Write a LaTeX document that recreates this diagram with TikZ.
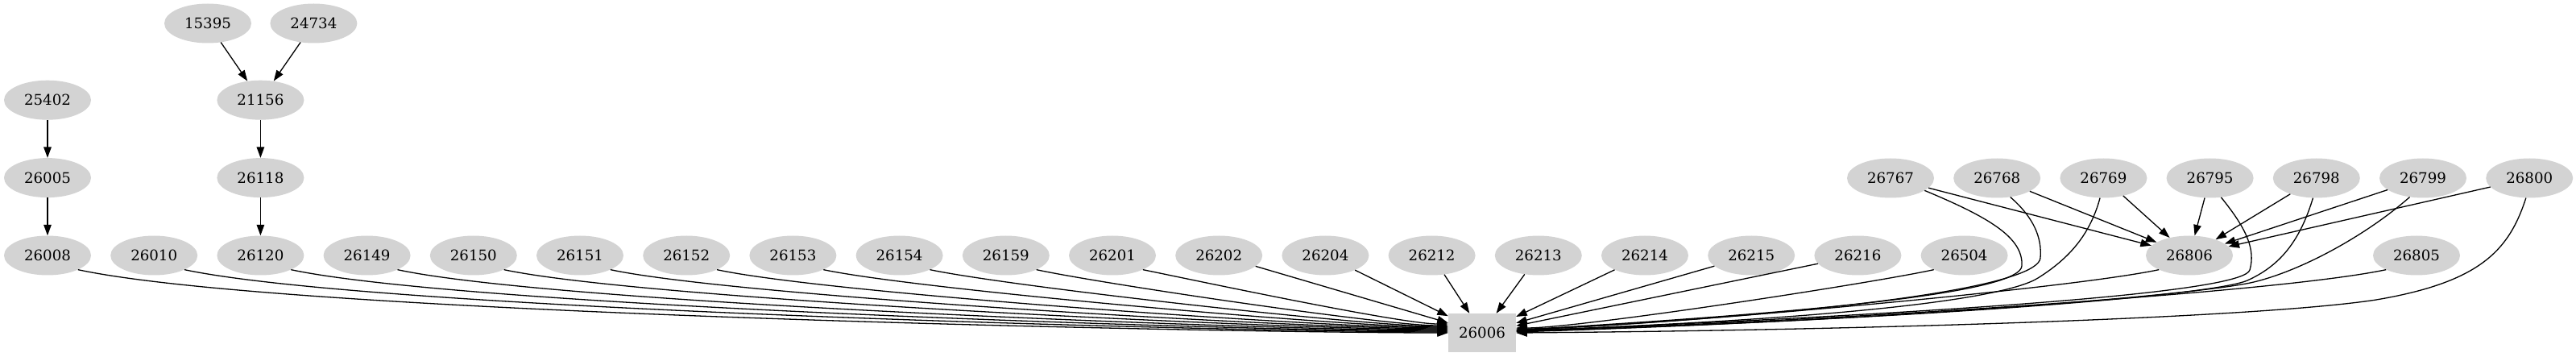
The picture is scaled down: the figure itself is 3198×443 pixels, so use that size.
\documentclass[tikz,border=0pt]{standalone}
\usepackage{fontspec}
\setmainfont{DejaVu Serif}
\usetikzlibrary{positioning,arrows.meta,shapes.geometric}
\definecolor{GrisNodo}{HTML}{D3D3D3}
\tikzstyle{IdNodo}=[ellipse, fill=GrisNodo, minimum width=108pt, minimum height=49pt, inner sep=0pt, font=\fontsize{18.2}{22}\selectfont]
\tikzstyle{NodoSumidero}=[rectangle, fill=GrisNodo, minimum width=84pt, minimum height=48pt, inner sep=0pt, font=\fontsize{18.2}{22}\selectfont]
\tikzstyle{Arco}=[-{Triangle[length=13.5pt, width=9.5pt]}, line width=1.3pt]

\begin{document}
\begin{tikzpicture}[x=1pt, y=1pt]
			\useasboundingbox (0,0) rectangle (3198,-443);

			%Nodos
			\node[IdNodo]		(n26008)	at (59,-317)				{26008};
			\node[IdNodo]		(n26010)	[right=23.8pt of n26008]	{26010};
			\node[IdNodo]		(n26120)	[right=23.8pt of n26010]	{26120};
			\node[IdNodo]		(n26149)	[right=23.8pt of n26120]	{26149};
			\node[IdNodo]		(n26150)	[right=23.8pt of n26149]	{26150};
			\node[IdNodo]		(n26151)	[right=23.8pt of n26150]	{26151};
			\node[IdNodo]		(n26152)	[right=23.8pt of n26151]	{26152};
			\node[IdNodo]		(n26153)	[right=23.8pt of n26152]	{26153};
			\node[IdNodo]		(n26154)	[right=23.8pt of n26153]	{26154};
			\node[IdNodo]		(n26159)	[right=23.8pt of n26154]	{26159};
			\node[IdNodo]		(n26201)	[right=23.8pt of n26159]	{26201};
			\node[IdNodo]		(n26202)	[right=23.8pt of n26201]	{26202};
			\node[IdNodo]		(n26204)	[right=23.8pt of n26202]	{26204};
			\node[IdNodo]		(n26212)	[right=23.8pt of n26204]	{26212};
			\node[IdNodo]		(n26213)	[right=23.8pt of n26212]	{26213};
			\node[IdNodo]		(n26214)	[right=23.8pt of n26213]	{26214};
			\node[IdNodo]		(n26215)	[right=23.8pt of n26214]	{26215};
			\node[IdNodo]		(n26216)	[right=23.8pt of n26215]	{26216};
			\node[IdNodo]		(n26504)	[right=23.8pt of n26216]	{26504};
			\node[IdNodo]		(n26806)	at (2718,-317)				{26806};
			\node[IdNodo]		(n26805)	at (3000,-317)				{26805};

			\node[IdNodo]		(n26005)	[above=47pt of n26008]		{26005};
			\node[IdNodo]		(n25402)	[above=47pt of n26005]		{25402};
			\node[IdNodo]		(n26118)	[above=47pt of n26120]		{26118};
			\node[IdNodo]		(n21156)	[above=47pt of n26118]		{21156};
			\node[IdNodo]		(n15395)	at (258,-29)				{15395};
			\node[IdNodo]		(n24734)	[right=23pt of n15395]		{24734};

			\node[IdNodo]		(n26767)	at (2347,-221)				{26767};
			\node[IdNodo]		(n26768)	[right=23.8pt of n26767]	{26768};
			\node[IdNodo]		(n26769)	[right=23.8pt of n26768]	{26769};
			\node[IdNodo]		(n26795)	[right=23.8pt of n26769]	{26795};
			\node[IdNodo]		(n26798)	[right=23.8pt of n26795]	{26798};
			\node[IdNodo]		(n26799)	[right=23.8pt of n26798]	{26799};
			\node[IdNodo]		(n26800)	[right=23.8pt of n26799]	{26800};

			\node[NodoSumidero]	(n26006)	at (1840,-413)				{26006};

			%Lineas
			\draw[Arco] (n15395) -- (n21156);
			\draw[Arco] (n24734) -- (n21156);
			\draw[Arco] (n25402) -- (n26005);
			\draw[Arco] (n26005) -- (n26008);
			\draw[Arco] (n21156) -- (n26118);
			\draw[Arco] (n26118) -- (n26120);

			\draw[Arco] (n26008.-25) .. controls +(261,-56) and +(-267,0) .. (n26006.west);
			\draw[Arco] (n26010.-25) .. controls +(241,-51) and +(-246,0) .. ([yshift=1pt]n26006.west);
			\draw[Arco] (n26120.-25) .. controls +(221,-47) and +(-226,0) .. ([yshift=2pt]n26006.west);
			\draw[Arco] (n26149.-25) .. controls +(200,-43) and +(-205,0) .. ([yshift=3pt]n26006.west);
			\draw[Arco] (n26150.-25) .. controls +(180,-38) and +(-184,0) .. ([yshift=4pt]n26006.west);
			\draw[Arco] (n26151.-25) .. controls +(160,-34) and +(-164,0) .. ([yshift=5pt]n26006.west);
			\draw[Arco] (n26152.-25) .. controls +(140,-30) and +(-143,0) .. ([yshift=6pt]n26006.west);
			\draw[Arco] (n26153.-25) .. controls +(119,-25) and +(-122,0) .. ([yshift=7pt]n26006.west);
			\draw[Arco] (n26154.-25) .. controls +(100,-21) and +(-102,0) .. ([yshift=8pt]n26006.west);
			\draw[Arco] (n26159.-25) .. controls +(79,-17) and +(-81,0) .. ([yshift=9pt]n26006.west);
			\draw[Arco] (n26201.-25) .. controls +(59,-12) and +(-60,0) .. ([yshift=11pt]n26006.west);
			\draw[Arco] (n26202) -- (n26006);
			\draw[Arco] (n26204) -- (n26006);
			\draw[Arco] (n26212) -- (n26006);
			\draw[Arco] (n26213) -- (n26006);
			\draw[Arco] (n26214) -- (n26006);
			\draw[Arco] (n26215) -- (n26006);
			\draw[Arco] (n26216) -- (n26006);
			\draw[Arco] (n26504.-155) .. controls +(-78,-17) and +(80,0) .. ([yshift=6pt]n26006.east);
			\draw[Arco] (n26806.-155) .. controls +(-123,-26) and +(126,0) .. ([yshift=5pt]n26006.east);
			\draw[Arco] (n26805.-155) .. controls +(-166,-35) and +(170,0) .. ([yshift=4pt]n26006.east);

			\draw[Arco] (n26767) -- (n26806);
			\draw[Arco] (n26768) -- (n26806);
			\draw[Arco] (n26769) -- (n26806);
			\draw[Arco] (n26795) -- (n26806);
			\draw[Arco] (n26798) -- (n26806);
			\draw[Arco] (n26799) -- (n26806);
			\draw[Arco] (n26800) -- (n26806);

			\draw[Arco] (n26767.-20) .. controls (2470,-270) and (2512,-295) .. (2510,-330) .. controls (2508,-360) and (2300,-385) .. ([yshift=3.5pt]n26006.east);
			\draw[Arco] (n26768.-55) .. controls (2525,-270) and (2535,-295) .. (2533,-320) .. controls (2531,-350) and (2350,-385) .. ([yshift=3pt]n26006.east);
			\draw[Arco] (n26769.-100) .. controls (2595,-290) and (2570,-320) .. (2530,-345) .. controls (2490,-370) and (2300,-395) .. ([yshift=2.5pt]n26006.east);
			\draw[Arco] (n26795.-60) .. controls (2790,-285) and (2800,-310) .. (2793,-335) .. controls (2786,-360) and (2500,-385) .. ([yshift=2pt]n26006.east);
			\draw[Arco] (n26798.-100) .. controls (2855,-300) and (2830,-330) .. (2790,-348) .. controls (2750,-366) and (2400,-395) .. ([yshift=1.5pt]n26006.east);
			\draw[Arco] (n26799.-125) .. controls (2940,-290) and (2860,-335) .. (2798,-350) .. controls (2740,-364) and (2400,-395) .. ([yshift=1pt]n26006.east);
			\draw[Arco] (n26800.-100) .. controls (3115,-310) and (3080,-350) .. (2950,-372) .. controls (2800,-395) and (2300,-410) .. (n26006.east);

\end{tikzpicture}
\end{document}
